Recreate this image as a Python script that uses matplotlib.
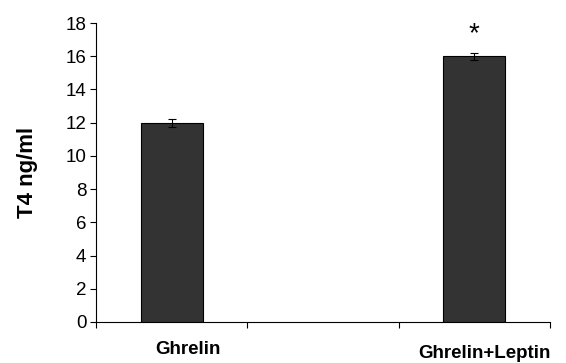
import numpy as np
import matplotlib as mpl
mpl.use('agg')
import matplotlib.pyplot as plt

# values
groups = ['Ghrelin', 'Ghrelin+Leptin']
group_pos = [0, 2]          # middle slot on the axis is empty
t4_mean = [12.0, 16.0]
t4_err = [0.25, 0.2]
star_y = 17.35

plt.rcParams['font.family'] = ['Liberation Sans', 'DejaVu Sans']

fig = plt.figure(figsize = (5.66, 3.63), dpi = 100)
ax = fig.add_axes([0.1696, 0.113, 0.802, 0.8236])

ax.bar(group_pos, t4_mean, width = 0.41, color = '#333333', edgecolor = 'black',
       linewidth = 0.8, yerr = t4_err, capsize = 3,
       error_kw = {'elinewidth': 0.8, 'capthick': 0.8, 'ecolor': 'black'})

ax.text(group_pos[1], star_y, '*', ha = 'center', va = 'center', fontsize = 20)

ax.set_xlim(-0.5, 2.5)
ax.set_ylim(0, 18)
ax.set_yticks(np.arange(0, 19, 2))
ax.set_xticks([-0.5, 0.5, 1.5, 2.5])
ax.set_xticklabels([])
ax.tick_params(axis = 'both', direction = 'out', length = 4, width = 0.8,
               labelsize = 13.5)
ax.tick_params(axis = 'y', pad = 3)

# category labels sit staggered below the axis, like the original
label_off = [(0.11, -0.093), (2.07, -0.106)]
for name, (xo, yo) in zip(groups, label_off):
    ax.text(xo, yo, name, transform = ax.get_xaxis_transform(), ha = 'center',
            va = 'center', fontsize = 13.5, fontweight = 'bold')

ax.set_ylabel('T4 ng/ml', fontsize = 16, fontweight = 'bold', labelpad = 20)

for side in ['top', 'right']:
    ax.spines[side].set_visible(False)
for side in ['left', 'bottom']:
    ax.spines[side].set_linewidth(0.8)

fig.savefig('out.png', dpi = 100)
